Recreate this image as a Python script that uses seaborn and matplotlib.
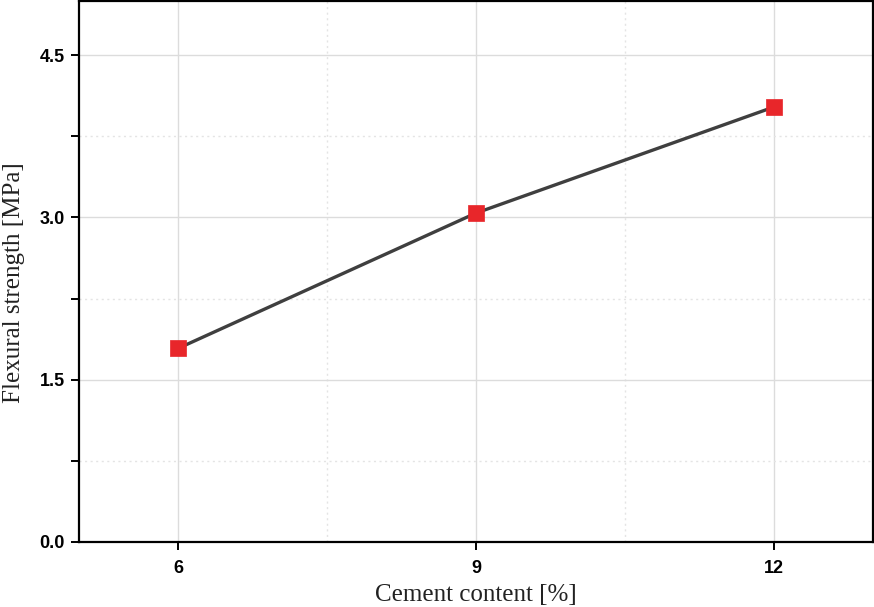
import matplotlib
matplotlib.use("Agg")
import matplotlib.pyplot as plt
import pandas as pd
import seaborn as sns
from matplotlib.ticker import MultipleLocator

# DATA
cement_content = [6, 9, 12]
flexural_strength = [1.79, 3.04, 4.02]

df = pd.DataFrame({"cement": cement_content, "strength": flexural_strength})

sns.set_style("white")

fig = plt.figure(figsize=(8.74, 6.07), dpi=100)
ax = fig.add_axes([79 / 874, 65 / 607, 794 / 874, 541 / 607])

# line first, then markers on top
sns.lineplot(data=df, x="cement", y="strength", color="#3f3f3f",
             linewidth=2.4, ax=ax, zorder=3)
sns.scatterplot(data=df, x="cement", y="strength", marker="s", s=130,
                color="#e8262a", edgecolor="#e8262a", linewidth=0.5,
                ax=ax, zorder=4)

ax.set_xlim(5, 13)
ax.set_ylim(0, 5)
ax.xaxis.set_major_locator(MultipleLocator(3))
ax.xaxis.set_minor_locator(MultipleLocator(1.5))
ax.yaxis.set_major_locator(MultipleLocator(1.5))
ax.yaxis.set_minor_locator(MultipleLocator(0.75))
ax.yaxis.set_major_formatter(matplotlib.ticker.FormatStrFormatter("%.1f"))

ax.grid(which="major", color="#dcdcdc", linewidth=1.0, linestyle="-")
ax.grid(which="minor", color="#e4e4e4", linewidth=1.0, linestyle=(0, (1.5, 2.5)))
ax.set_axisbelow(True)

for sp in ax.spines.values():
    sp.set_color("black")
    sp.set_linewidth(1.6)

ax.tick_params(axis="both", which="major", direction="out", length=6, width=1.4,
               bottom=True, left=True, top=False, right=False, color="black",
               labelcolor="black")
ax.tick_params(axis="y", which="minor", direction="out", length=6, width=1.4,
               left=True, color="black")
ax.tick_params(axis="x", which="minor", bottom=False)

for lab in ax.get_xticklabels() + ax.get_yticklabels():
    lab.set_fontfamily("Liberation Sans")
    lab.set_fontweight("bold")
    lab.set_fontsize(13)
ax.tick_params(axis="x", pad=7)
ax.tick_params(axis="y", pad=4)

ax.set_xlabel("Cement content [%]", fontfamily="Liberation Serif", fontsize=18,
              labelpad=5, color="#222222")
ax.set_ylabel("Flexural strength [MPa]", fontfamily="Liberation Serif", fontsize=18,
              color="#222222")
ax.yaxis.set_label_coords(-0.068, 0.48)

fig.savefig("out.png", dpi=100)
